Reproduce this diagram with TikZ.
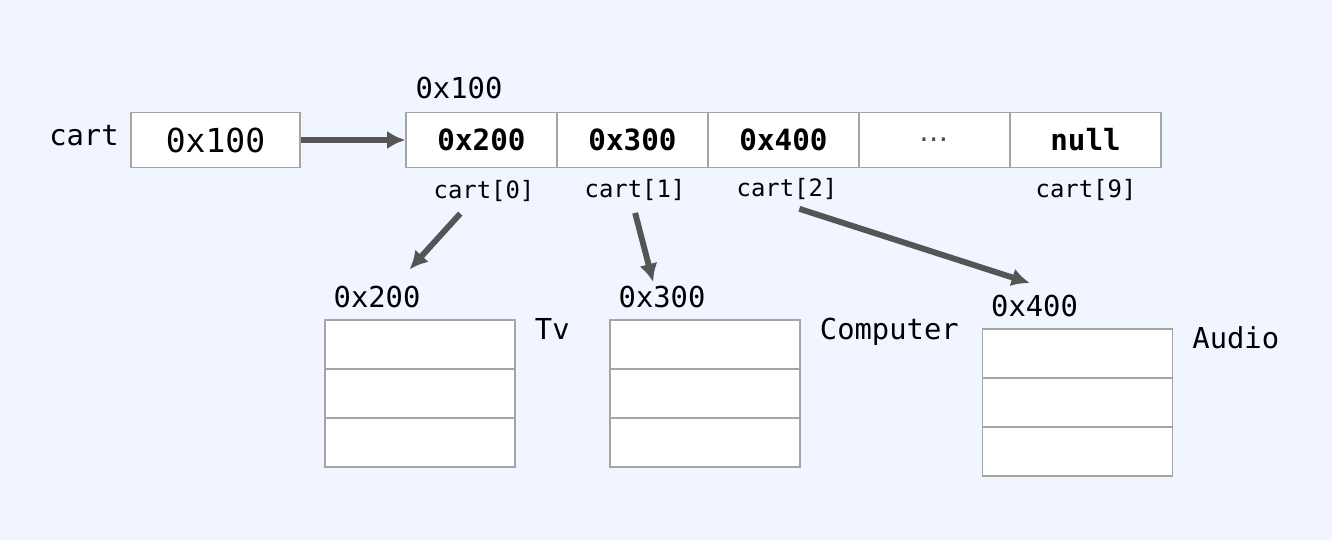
\documentclass[tikz,border=0pt]{standalone}
\usepackage{fontspec}
\setmonofont{DejaVu Sans Mono}
\setsansfont{DejaVu Sans}
\usetikzlibrary{arrows.meta, calc}
\definecolor{mybg}{RGB}{240, 245, 255}
\definecolor{myarrow}{RGB}{85, 85, 85}
\definecolor{myline}{RGB}{165, 165, 165}
\newcommand{\monofs}[1]{\fontsize{#1}{#1}\selectfont\ttfamily}

\begin{document}
\begin{tikzpicture}[x=0.025cm,y=-0.025cm,
  box/.style={draw=myline,fill=white,line width=0.9pt,inner sep=0pt},
  lbl/.style={inner sep=0pt,font=\monofs{20.5}},
  idx/.style={inner sep=0pt,font=\monofs{17}},
  ptr/.style={draw=myarrow,line width=4.2pt,-{Latex[length=13pt,width=13pt]}}]
  \def\px{0.025cm}

  %background
  \fill[mybg] (0,0) rectangle (1332,540);

  %variable cart
  \node[lbl] (cartname) at (84,136) {cart};
  \node[box,minimum width=169*\px,minimum height=55*\px,font=\monofs{23.5}] (cartbox) at (215.5,140) {0x100};

  %array on the heap
  \node[lbl] (arraddr) at (459,88) {0x100};
  \foreach \t [count=\i from 0] in {0x200,0x300,0x400,{\sffamily\mdseries\color{black!70}\raisebox{-0.12em}{…}},null}
    \node[box,minimum width=151*\px,minimum height=55*\px,font=\monofs{20.8}\bfseries] (cell\i) at (481.5+151*\i,140) {\t};
  \foreach \i/\x/\y in {0/484/191,1/635/190,2/787/189,9/1086/190}
    \node[idx] (idx\i) at (\x,\y) {cart[\i]};

  %objects
  \foreach \n/\x/\y/\addr/\kind in {0/420/320/0x200/Tv, 1/705/320/0x300/Computer, 2/1077.5/329/0x400/Audio}
  {
    \foreach \r in {0,1,2}
      \node[box,minimum width=190*\px,minimum height=49*\px] (obj\n-\r) at (\x,\y+24.5+49*\r) {};
    \node[lbl,anchor=south west] (addr\n) at ([shift={(9,-11)}]obj\n-0.north west) {\addr};
    \node[lbl,anchor=base west] (kind\n) at ([shift={(19,20)}]obj\n-0.north east) {\kind};
  }

  %pointers
  \draw[ptr] (cartbox.east) -- (cell0.west);
  \draw[ptr,shorten <=11.2pt,shorten >=15.9pt] ($(idx0.south west)!0.37!(idx0.south east)$) -- ($(addr0.north west)!0.7!(addr0.north east)$);
  \draw[ptr,shorten <=8.8pt,shorten >=2.9pt] ($(idx1.south west)!0.47!(idx1.south east)$) -- ($(addr1.north west)!0.41!(addr1.north east)$);
  \draw[ptr,shorten <=20.6pt,shorten >=27.6pt] ($(idx2.south west)!0.35!(idx2.south east)$) -- ($(addr2.north west)!0.87!(addr2.north east)$);

\end{tikzpicture}
\end{document}
